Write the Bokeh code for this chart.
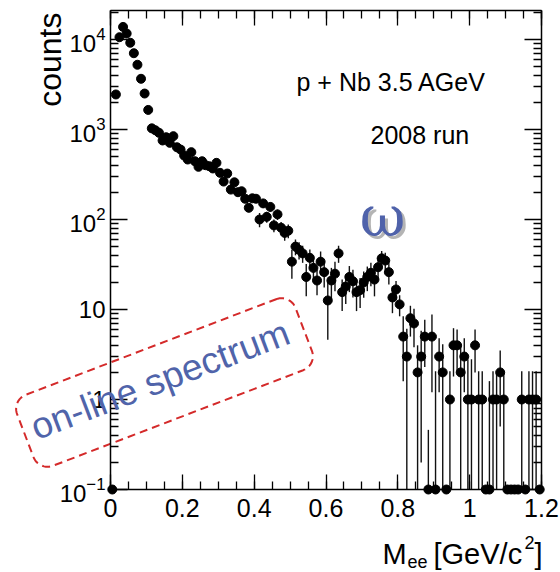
import numpy as np
from bokeh.plotting import figure
from bokeh.models import (Range1d, LinearScale, LinearAxis, LogAxis, FixedTicker,
                          Label, ColumnDataSource, LogTickFormatter)
from bokeh.embed import file_html
from bokeh.resources import INLINE

# ---------------- data ----------------
bin_width = 0.01
mass = [round(0.005 + bin_width * i, 3) for i in range(120)]   # bin centres, GeV/c^2

counts = [
    0, 2450, 10600, 13800, 11650, 9200, 7040, 5240, 3660, 2510,
    1650, 1030, 980, 919, 755, 821, 711, 843, 635, 599,
    514, 464, 560, 444, 385, 444, 401, 391, 369, 426,
    330, 264, 324, 215, 259, 201, 206, 170, 135, 172,
    170, 100, 151, 107, 138, 86, 114, 81, 71, 75,
    34, 50, 46, 42, 23, 37.5, 29, 21, 34, 26,
    12.6, 21, 25, 42, 15.6, 18, 23, 20.6, 15.6, 16.4,
    20, 23, 25.6, 21.5, 29.5, 37, 35, 26, 13.6, 16.7,
    11.4, 5, 3, 8, 7, 2, 3, 5, 0, 5,
    0, 3, 2, 0, 1, 4, 4, 2, 3, 1,
    1, 4, 1, 1, None, 0, 1, 1, 2, 1,
    None, None, 0, None, 1, None, 1, 1, 1, None,
]

errors = [
    0, 50, 105, 118, 108, 96, 84, 72, 60, 50,
    41, 32, 31, 30, 27, 29, 27, 29, 25, 24,
    23, 22, 24, 21, 20, 21, 20, 20, 19, 21,
    22, 20, 22, 18, 20, 18, 18, 16, 15, 17,
    17, 18, 17, 15, 16, 14, 15, 13, 13, 13,
    12, 10, 10, 9, 9, 9, 8.5, 6.6, 10, 8.4,
    8, 8, 9, 9, 6, 6.5, 7.4, 7, 6, 6,
    6.5, 7, 7.5, 7.5, 8, 7.6, 7.6, 7, 4.5, 4,
    3, 3.4, 3.1, 3, 3.2, 2, 2.8, 2.7, 0.46, 3.8,
    2.06, 1.8, 2.1, 0, 1.06, 2.2, 2, 2.1, 1.8, 1.8,
    1.8, 2, 1.06, 1.06, None, 1.6, 1.06, 1.06, 1.5, 1.06,
    None, None, 0, None, 1.06, None, 1.06, 1.06, 1.06, None,
]

x_ticks = [0, 0.2, 0.4, 0.6, 0.8, 1.0, 1.2]
x_tick_labels = ["0", "0.2", "0.4", "0.6", "0.8", "1", "1.2"]
y_ticks = [0.1, 1, 10, 100, 1000, 10000]

# ---------------- geometry of the ROOT frame (canvas pixels) ----------------
W, H = 560, 572
X_LO, X_HI = 0.0, 1.2          # axis span
Y_LO, Y_HI = 0.1, 2.1e4        # axis span
FRAME_L, FRAME_R = 110, 541    # pixel columns of x = X_LO, X_HI
FRAME_B, DECADE = 489, 90      # pixel row of y = Y_LO, pixels per decade

sx = (FRAME_R - FRAME_L) / (X_HI - X_LO)
x_range = Range1d(X_LO - FRAME_L / sx, X_LO + (W - FRAME_L) / sx)
log_lo = np.log10(Y_LO)
y_range = Range1d(10 ** (log_lo - (H - FRAME_B) / DECADE), 10 ** (log_lo + FRAME_B / DECADE))

# ---------------- derived columns ----------------
c = np.array([np.nan if v is None else v for v in counts], dtype=float)
e = np.array([np.nan if v is None else v for v in errors], dtype=float)
y_plot = np.where(c > 0, c, Y_LO)             # empty bins sit on the bottom axis
lo = np.where(c - e > Y_LO, c - e, Y_LO)
hi = c + e
hi = np.where(hi > Y_LO, hi, np.nan)
lo = np.where(np.isnan(hi), np.nan, lo)
src = ColumnDataSource(dict(x=mass, y=y_plot, lo=lo, hi=hi))

# ---------------- figure ----------------
p = figure(width=W, height=H, x_range=x_range, y_range=y_range,
           y_axis_type="log", x_axis_location=None, y_axis_location=None,
           output_backend="svg", toolbar_location=None, min_border=0,
           background_fill_color="white", border_fill_color="white",
           outline_line_color=None)
p.title.visible = False
p.grid.visible = False

x_minor = [round(0.05 * k, 2) for k in range(25)]
y_minor = [k * 10.0 ** ex for ex in range(-1, 5) for k in range(2, 10)]


def style_axis(ax, tick_in, minor_in, show_labels):
    ax.axis_line_color = "black"
    ax.axis_line_width = 1.5
    ax.major_tick_line_color = "black"
    ax.minor_tick_line_color = "black"
    ax.major_tick_line_width = 1.3
    ax.minor_tick_line_width = 1.3
    ax.major_tick_in = tick_in
    ax.major_tick_out = 0
    ax.minor_tick_in = minor_in
    ax.minor_tick_out = 0
    if not show_labels:
        ax.major_label_text_font_size = "0px"
        ax.major_label_text_alpha = 0
        ax.major_label_standoff = 0


bottom = LinearAxis(fixed_location=Y_LO, bounds=(X_LO, X_HI),
                    ticker=FixedTicker(ticks=x_ticks, minor_ticks=x_minor))
style_axis(bottom, 15, 8, True)
bottom.major_label_overrides = {t: s for t, s in zip(x_ticks, x_tick_labels)}
bottom.major_label_text_font = "Liberation Sans"
bottom.major_label_text_font_size = "25px"
bottom.major_label_text_color = "black"
bottom.major_label_standoff = 9
p.add_layout(bottom, "below")

top = LinearAxis(fixed_location=Y_HI, bounds=(X_LO, X_HI),
                 ticker=FixedTicker(ticks=x_ticks, minor_ticks=x_minor))
style_axis(top, 15, 8, False)
p.add_layout(top, "above")

left = LogAxis(fixed_location=X_LO, bounds=(Y_LO, Y_HI),
               ticker=FixedTicker(ticks=y_ticks, minor_ticks=y_minor),
               formatter=LogTickFormatter())
style_axis(left, 17, 8, True)
left.major_label_overrides = {1: "1", 10: "10"}
left.major_label_text_font = "Liberation Sans"
left.major_label_text_font_size = "24px"
left.major_label_text_color = "black"
left.major_label_standoff = 5
p.add_layout(left, "left")

right = LogAxis(fixed_location=X_HI, bounds=(Y_LO, Y_HI),
                ticker=FixedTicker(ticks=y_ticks, minor_ticks=y_minor))
style_axis(right, 17, 8, False)
p.add_layout(right, "right")

# ---------------- data marks ----------------
p.segment(x0="x", y0="lo", x1="x", y1="hi", source=src, line_color="#111111", line_width=1.4)
p.scatter(x="x", y="y", source=src, marker="circle", size=9,
          fill_color="black", line_color="black")

# ---------------- pixel-space overlay for annotations ----------------
p.extra_x_ranges = {"px": Range1d(0, W)}
p.extra_y_ranges = {"px": Range1d(H, 0)}
p.extra_x_scales = {"px": LinearScale()}
p.extra_y_scales = {"px": LinearScale()}

BASE_SHIFT = 0.4   # Bokeh puts the glyph baseline ~0.4 em below the anchor


def lab(x, y, text, size, color="black", align="left", font="Liberation Sans", angle=0.0):
    """Place text so that its alphabetic baseline passes through canvas pixel (x, y)."""
    s = BASE_SHIFT * size
    ax = x - s * np.sin(angle)
    ay = y - s * np.cos(angle)
    p.add_layout(Label(x=ax, y=ay, text=text, x_range_name="px", y_range_name="px",
                       text_font=font, text_font_size=f"{size}px", text_color=color,
                       text_align=align, text_baseline="alphabetic", angle=angle))


# axis titles
lab(62, 12, "counts", 32, align="right", angle=np.pi / 2)
lab(382, 565, "M", 29)
lab(407, 568, "ee", 18)
lab(433, 565, "[GeV/c", 29)
lab(524, 549, "2", 18)
lab(534, 565, "]", 29)

# header texts
lab(296, 91, "p + Nb 3.5 AGeV", 25)
lab(370, 144, "2008 run", 25)

# omega with shadow
lab(385, 241, "\u03c9", 56, color="#b4b4b4", align="center", font="DejaVu Serif")
lab(382, 238, "\u03c9", 56, color="#4f62aa", align="center", font="DejaVu Serif")

# rotated "on-line spectrum" with dashed rounded box
theta = np.radians(20.9)
lab(37, 442, "on-line spectrum", 37, color="#5064aa", angle=theta)


def rounded_box(cx, cy, w, h, r, ang, n=14):
    loc = []
    for ox, oy, a0, a1 in [(w / 2 - r, -h / 2 + r, -90, 0), (w / 2 - r, h / 2 - r, 0, 90),
                           (-w / 2 + r, h / 2 - r, 90, 180), (-w / 2 + r, -h / 2 + r, 180, 270)]:
        for t in np.linspace(np.radians(a0), np.radians(a1), n):
            loc.append((ox + r * np.cos(t), oy + r * np.sin(t)))
    loc.append(loc[0])
    xs = [cx + a * np.cos(ang) + b * np.sin(ang) for a, b in loc]
    ys = [cy - a * np.sin(ang) + b * np.cos(ang) for a, b in loc]
    return xs, ys


bx, by = rounded_box(164, 382, 298, 76, 15, theta)
p.line(x=bx, y=by, x_range_name="px", y_range_name="px",
       line_color="#d42a2a", line_width=2, line_dash="8 5")

open("out.html", "w").write(file_html(p, INLINE))
